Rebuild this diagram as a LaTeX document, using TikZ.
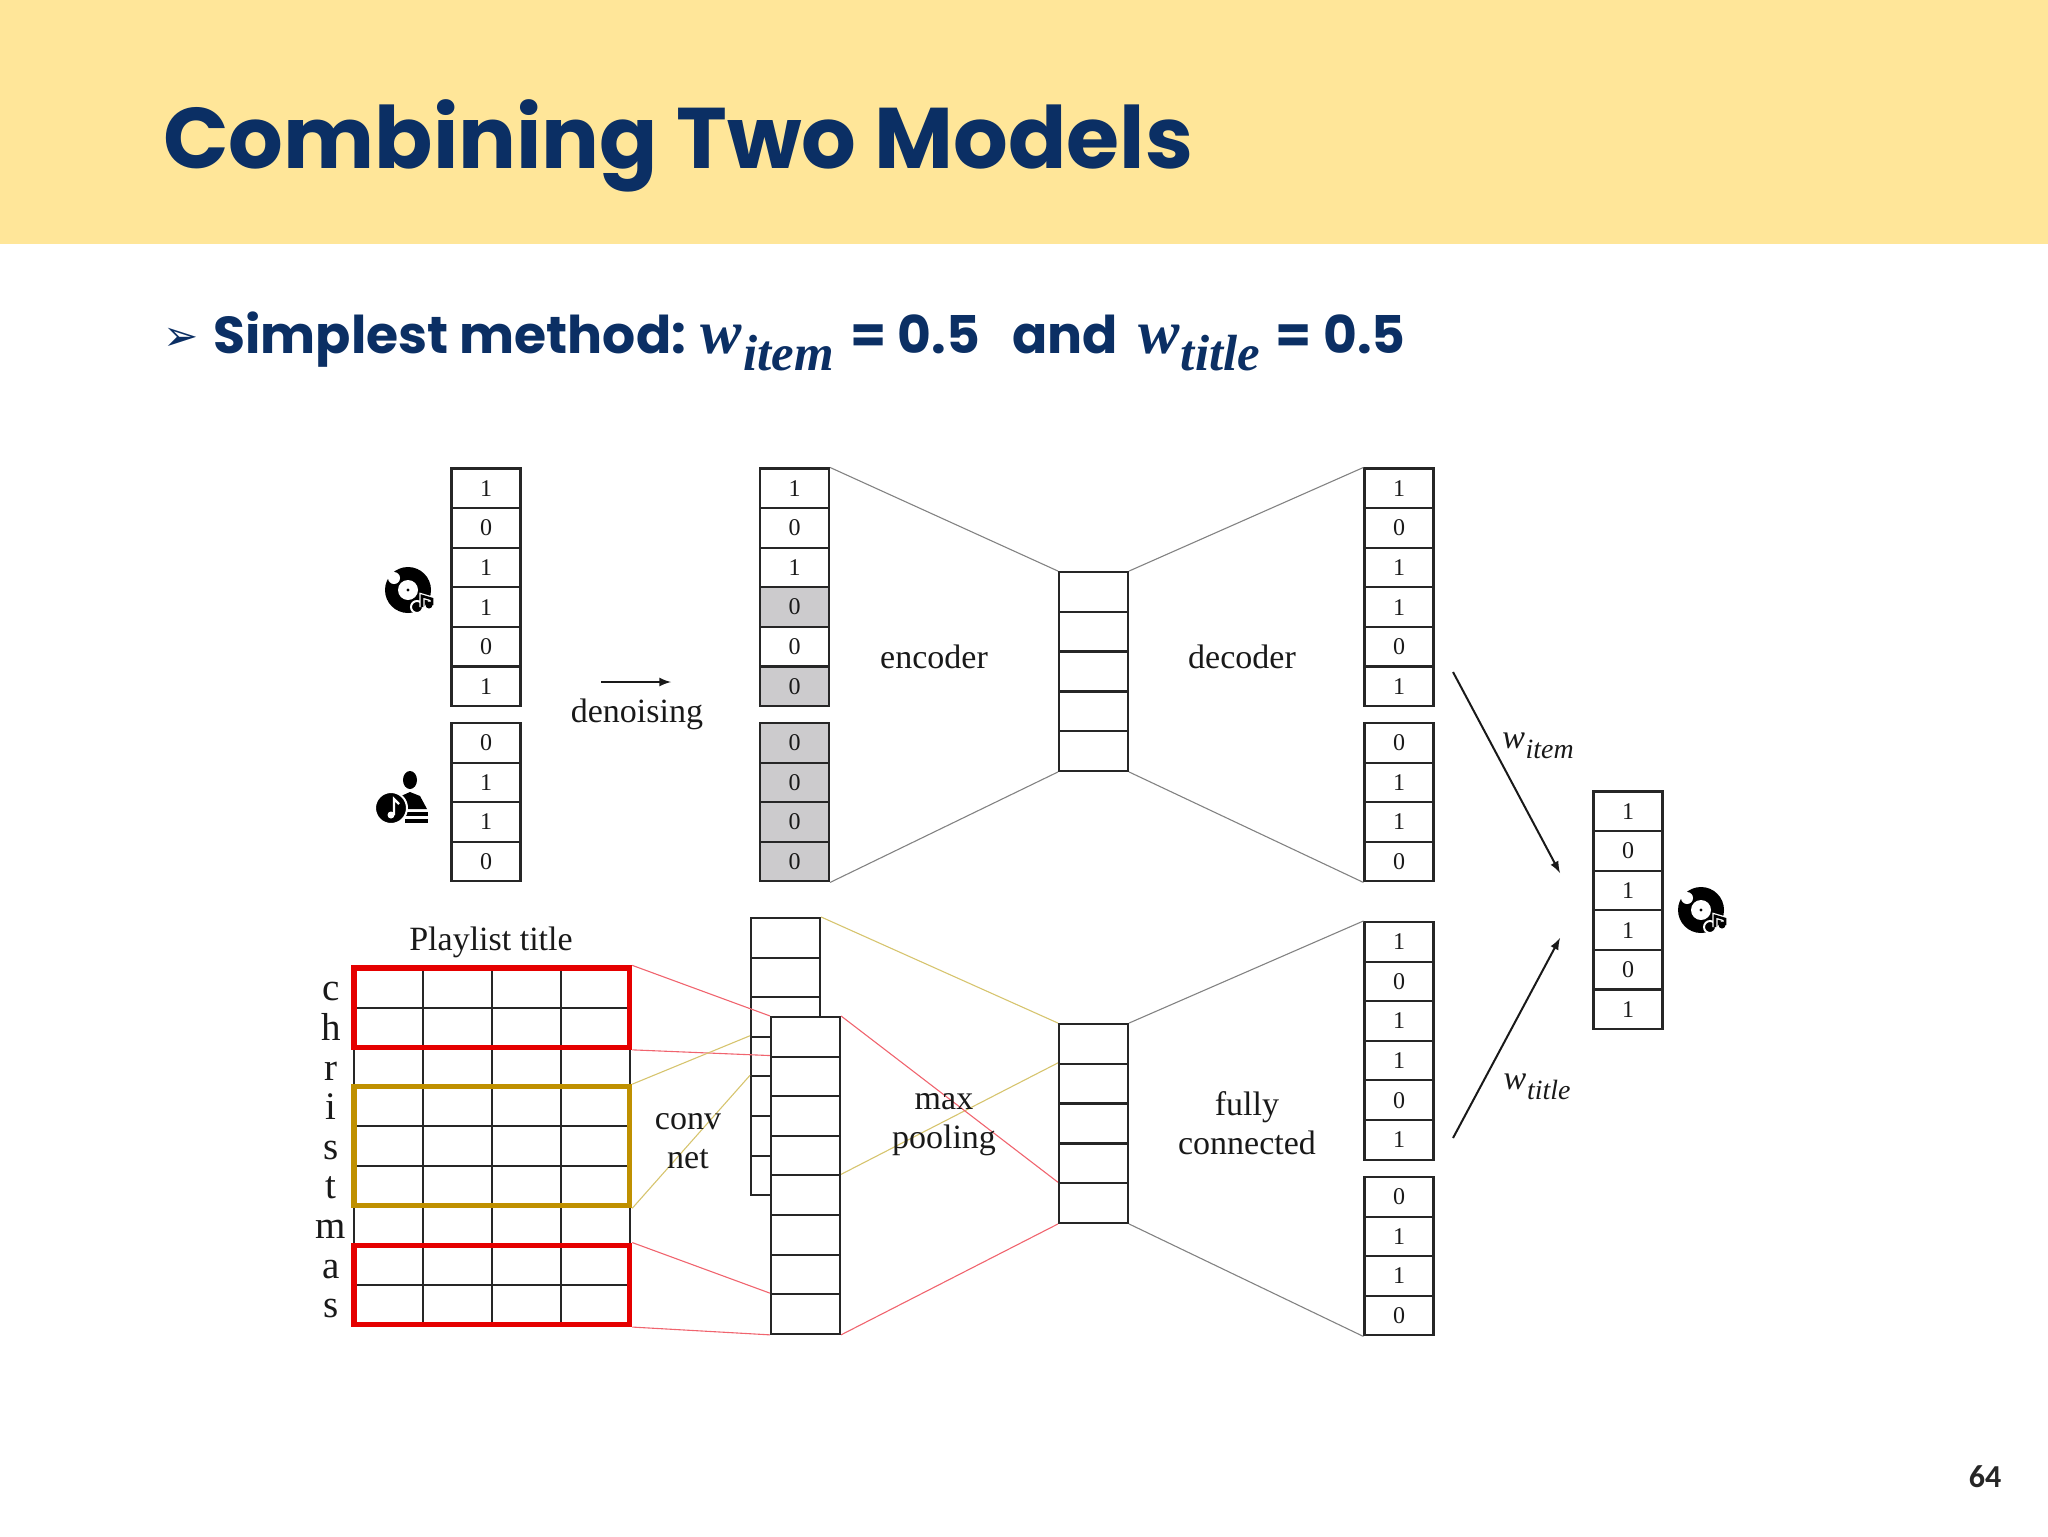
\documentclass[tikz,border=0pt]{standalone}
\usepackage{amsmath,amssymb}
\usepackage{xcolor}
\usepackage{fontspec}
\usepackage{tikz}
\usetikzlibrary{arrows, positioning, fit, calc}
\setmainfont{Liberation Serif}
\newfontfamily\headfont{Poppins}
\newfontfamily\glyphfont{DejaVu Sans}
\newfontfamily\pagefont{Carlito}
\newcommand{\wsub}[1]{\textit{w\kern0.02em\raisebox{-0.28em}{\scalebox{0.82}{#1}}}}
\newcommand{\wbig}[1]{{\fontspec{Liberation Serif}\fontsize{31}{30}\selectfont\bfseries\wsub{#1}}}
\definecolor{bandyellow}{RGB}{255,230,153}
\definecolor{headblue}{RGB}{11,47,100}
\definecolor{maskgrey}{RGB}{204,203,205}
\definecolor{goldbox}{RGB}{191,144,0}
\definecolor{linkgrey}{RGB}{130,130,130}
\definecolor{linkred}{RGB}{240,100,110}
\definecolor{linkgold}{RGB}{214,196,110}

\begin{document}
\begin{tikzpicture}[
  x=0.5pt, y=-0.5pt,
  cell/.style={rectangle, draw=black!85, line width=1.05pt, minimum width=34.5pt, minimum height=19.8pt,
               inner sep=0pt, font=\fontsize{12}{14}\selectfont, text=black!90},
  gridcell/.style={cell, minimum width=34.45pt},
  lbl/.style={align=center, inner sep=0pt, font=\fontsize{17}{19.6}\selectfont, text=black!90},
  letter/.style={anchor=base, inner sep=0pt, font=\fontsize{19.5}{22}\selectfont, text=black!90},
  redbox/.style={draw=red!90!black, line width=2.6pt, inner sep=-0.5pt},
  goldframe/.style={draw=goldbox, line width=2.6pt, inner sep=-0.5pt},
  grey link/.style={draw=linkgrey, line width=0.55pt},
  red link/.style={draw=linkred, line width=0.55pt},
  gold link/.style={draw=linkgold, line width=0.55pt},
  arr/.style={-latex, line width=1pt, black!90},
  vinyl/.pic={
    \fill[black] (0,0) circle[radius=23];
    \fill[white] (0,0) circle[radius=10];
    \fill[black] (0,0) circle[radius=1.6];
    \fill[white] (-14,-12) circle[radius=6];
    \draw[white, line width=1pt, fill=black] (9,17) circle[radius=6];
    \draw[black, line width=1.3pt, preaction={draw=white, line width=2.6pt}] (14,17) -- (14,6) -- (24,9) -- (24,15);
    \fill[black] (21,15) circle[radius=3.5];
  },
]
\useasboundingbox (0,0) rectangle (2048,1536);
\fill[bandyellow] (0,0) rectangle (2048,244);

% header
\node[anchor=west, inner sep=0pt, text=headblue, font=\fontsize{43}{50}\selectfont\headfont\bfseries] (title) at (163,146) {Combining Two Models};
\node[anchor=west, inner sep=0pt, text=headblue, font=\fontsize{21}{24}\selectfont\glyphfont] (bullet) at (163,339) {➢};
\node[anchor=base west, inner sep=0pt, text=headblue, font=\fontsize{26}{30}\selectfont\headfont\bfseries] (method) at (213,353) {Simplest method: \wbig{item}\hspace{3pt} = 0.5\hspace{0.62em}and\hspace{4.5pt} \wbig{title}\hspace{2.5pt} = 0.5};
\node[inner sep=0pt, text=black!85, font=\fontsize{16}{18}\selectfont\pagefont\bfseries] (pagenum) at (1985,1477) {64};

% input vectors
\foreach \val [count=\i] in {1,0,1,1,0,1}
  \node[cell] (inA\i) at (486,{468.5+39.6*(\i-0.5)}) {\val};
\foreach \val [count=\i] in {0,1,1,0}
  \node[cell] (inB\i) at (486,{723+39.6*(\i-0.5)}) {\val};
\foreach \val/\shade [count=\i] in {1/white,0/white,1/white,0/maskgrey,0/white,0/maskgrey}
  \node[cell, fill=\shade] (noA\i) at (794.5,{468.5+39.6*(\i-0.5)}) {\val};
\foreach \val [count=\i] in {0,0,0,0}
  \node[cell, fill=maskgrey] (noB\i) at (794.5,{723+39.6*(\i-0.5)}) {\val};

% bottleneck of the upper model
\foreach \i in {1,...,5}
  \node[cell] (codeA\i) at (1093.5,{572+39.8*(\i-0.5)}) {};
\foreach \val [count=\i] in {1,0,1,1,0,1}
  \node[cell] (outA\i) at (1399,{468.5+39.6*(\i-0.5)}) {\val};
\foreach \val [count=\i] in {0,1,1,0}
  \node[cell] (outB\i) at (1399,{723+39.6*(\i-0.5)}) {\val};

% playlist title grid
\foreach \r in {1,...,9}
  \foreach \c in {1,...,4}
    \node[gridcell] (g\r\c) at ({354+68.9*(\c-0.5)},{968+39.6*(\r-0.5)}) {};
\foreach \ch [count=\r] in {c,h,r,i,s,t,m,a,s}
  \node[letter] (ltr\r) at (331,{968+39.6*(\r-0.5)+13}) {\ch};
\node[redbox, fit=(g11.north west)(g24.south east)] (redA) {};
\node[goldframe, fit=(g41.north west)(g64.south east)] (goldA) {};
\node[redbox, fit=(g81.north west)(g94.south east)] (redB) {};
\node[lbl] (playlist) at (491,942) {Playlist title};

% conv net feature maps
\foreach \i in {1,...,7}
  \node[cell] (bk\i) at (785.5,{918+39.6*(\i-0.5)}) {};
\foreach \i in {1,...,8}
  \node[cell, fill=white] (fr\i) at (805.5,{1017+39.6*(\i-0.5)}) {};

% bottleneck of the lower model
\foreach \i in {1,...,5}
  \node[cell] (codeB\i) at (1093.5,{1024+39.8*(\i-0.5)}) {};
\foreach \val [count=\i] in {1,0,1,1,0,1}
  \node[cell] (outC\i) at (1399,{922+39.6*(\i-0.5)}) {\val};
\foreach \val [count=\i] in {0,1,1,0}
  \node[cell] (outD\i) at (1399,{1177+39.6*(\i-0.5)}) {\val};

% merged output
\foreach \val [count=\i] in {1,0,1,1,0,1}
  \node[cell] (merge\i) at (1628,{791.5+39.6*(\i-0.5)}) {\val};

% funnel lines
\draw[grey link] (noA1.north east) -- (codeA1.north west);
\draw[grey link] (noB4.south east) -- (codeA5.south west);
\draw[grey link] (codeA1.north east) -- (outA1.north west);
\draw[grey link] (codeA5.south east) -- (outB4.south west);
\draw[grey link] (codeB1.north east) -- (outC1.north west);
\draw[grey link] (codeB5.south east) -- (outD4.south west);

\draw[red link] (redA.north east) -- (fr1.north west);
\draw[red link] (redA.south east) -- (fr2.north west);
\draw[red link] (redB.north east) -- (fr8.north west);
\draw[red link] (redB.south east) -- (fr8.south west);
\draw[gold link] (goldA.north east) -- (bk4.north west);
\draw[gold link] (goldA.south east) -- (bk5.north west);
\draw[gold link] (bk1.north east) -- (codeB1.north west);
\draw[gold link] (fr5.north east) -- (codeB2.north west);
\draw[red link] (fr1.north east) -- (codeB5.north west);
\draw[red link] (fr8.south east) -- (codeB5.south west);

% labels
\coordinate (denoiseL) at (601,682);
\coordinate (denoiseR) at (671,682);
\draw[arr] (denoiseL) -- (denoiseR);
\node[lbl] (denoising) at (637,714) {denoising};
\node[lbl] (encoder) at (934,657) {encoder};
\node[lbl] (decoder) at (1242,657) {decoder};
\node[lbl] (conv) at (688,1141) {conv\\net};
\node[lbl] (pooling) at (944,1125) {max\\pooling};
\node[lbl] (fully) at (1247,1123) {fully\\connected};

% weights
\coordinate (itemtail) at (1453,672);
\coordinate (itemhead) at (1560,873);
\coordinate (titletail) at (1453,1138);
\coordinate (titlehead) at (1560,938);
\draw[arr] (itemtail) -- (itemhead);
\draw[arr] (titletail) -- (titlehead);
\node[lbl] (witem) at (1538,746) {\wsub{item}};
\node[lbl] (wtitle) at (1537,1087) {\wsub{title}};

% icons
\pic (diskA) at (408,590) {vinyl};
\pic (diskB) at (1701,910) {vinyl};
\fill[black] (410,780) ellipse[x radius=7, y radius=9];
\fill[black] (399,809) -- (401,796) -- (410,792) -- (420,796) -- (427,809) -- cycle;
\fill[black] (405,812) rectangle (428,816);
\fill[black] (405,819) rectangle (428,823);
\draw[white, line width=1pt, fill=black] (391,808) circle[radius=16];
\draw[white, line width=1.1pt] (394,815) -- (394,799) -- (399,804);
\fill[white] (391,815) circle[radius=3.5];
\end{tikzpicture}
\end{document}
